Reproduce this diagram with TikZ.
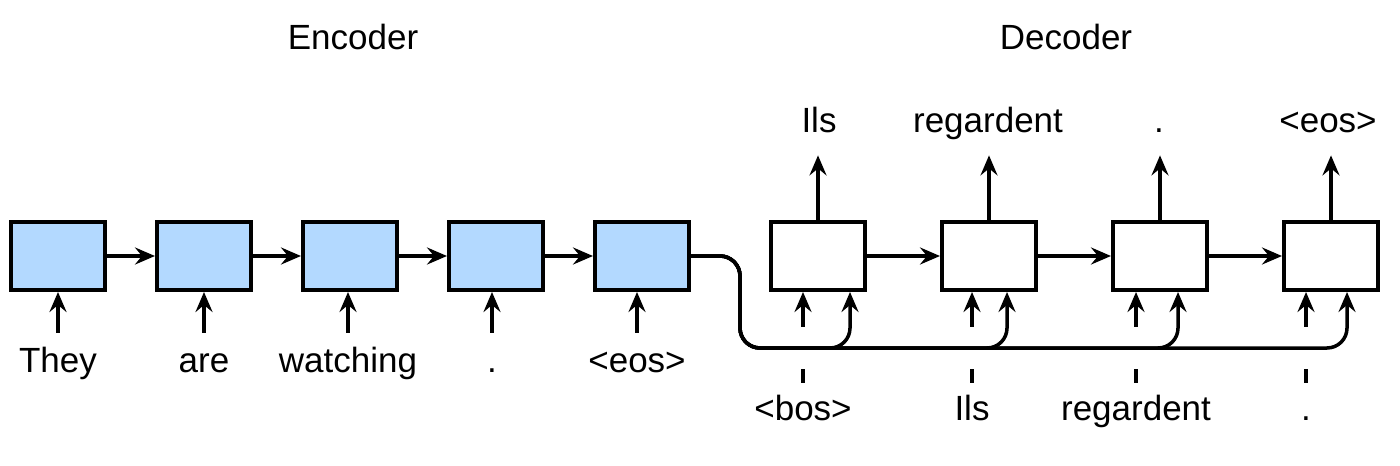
\documentclass[tikz,border=0pt]{standalone}
\usepackage{fontspec}
\setmainfont{Liberation Sans}
\usepackage{xcolor}
\usetikzlibrary{arrows.meta,positioning}
\definecolor{encblue}{RGB}{179,217,255}

\begin{document}
\begin{tikzpicture}[
  x=0.5pt,y=-0.5pt,
  node distance=24pt,
  enc/.style={rectangle,draw,line width=2pt,fill=encblue,minimum width=47pt,minimum height=34pt,inner sep=0pt},
  dec/.style={rectangle,draw,line width=2pt,fill=white,minimum width=47pt,minimum height=34pt,inner sep=0pt},
  word/.style={font=\fontsize{17.5}{21}\selectfont,inner sep=0pt,text height=12.5pt,text depth=3.5pt,anchor=base},
  arr/.style={-{Stealth[length=10pt,width=8.5pt,inset=3.5pt]},line width=1.75pt},
  tick/.style={line width=1.75pt}
]
\useasboundingbox (0,0) rectangle (1400,465);

\node[word] (enctitle) at (353,50) {Encoder};
\node[word] (dectitle) at (1066,50) {Decoder};

\node[enc] (e1) at (58,256) {};
\node[enc,right=of e1] (e2) {};
\node[enc,right=of e2] (e3) {};
\node[enc,right=of e3] (e4) {};
\node[enc,right=of e4] (e5) {};

\node[dec] (d1) at (818,256) {};
\node[dec,right=36.5pt of d1] (d2) {};
\node[dec,right=36.5pt of d2] (d3) {};
\node[dec,right=36.5pt of d3] (d4) {};

\node[word] (w1) at (58,372) {They};
\node[word] (w2) at (204,372) {are};
\node[word] (w3) at (348,372) {watching};
\node[word] (w4) at (492,372) {.};
\node[word] (w5) at (637,372) {<eos>};

\node[word] (o1) at (819,133) {Ils};
\node[word] (o2) at (988,133) {regardent};
\node[word] (o3) at (1159,133) {.};
\node[word] (o4) at (1328,133) {<eos>};

\node[word] (b1) at (803,420) {<bos>};
\node[word] (b2) at (972,420) {Ils};
\node[word] (b3) at (1136,420) {regardent};
\node[word] (b4) at (1306,420) {.};

\coordinate (bus) at (740,348);
\coordinate (r1) at (850,348);
\coordinate (r2) at (1007,348);
\coordinate (r3) at (1178,348);
\coordinate (r4) at (1347,348);

\draw[arr] (e1) -- (e2);
\draw[arr] (e2) -- (e3);
\draw[arr] (e3) -- (e4);
\draw[arr] (e4) -- (e5);
\draw[arr] (d1) -- (d2);
\draw[arr] (d2) -- (d3);
\draw[arr] (d3) -- (d4);

\draw[arr,shorten <=7pt] (w1.north) -- (w1.north |- e1.south);
\draw[arr,shorten <=7pt] (w2.north) -- (w2.north |- e2.south);
\draw[arr,shorten <=7pt] (w3.north) -- (w3.north |- e3.south);
\draw[arr,shorten <=7pt] (w4.north) -- (w4.north |- e4.south);
\draw[arr,shorten <=7pt] (w5.north) -- (w5.north |- e5.south);

\draw[arr,shorten >=7.5pt] (d1.north) -- (d1.north |- o1.south);
\draw[arr,shorten >=7.5pt] (d2.north) -- (d2.north |- o2.south);
\draw[arr,shorten >=7.5pt] (d3.north) -- (d3.north |- o3.south);
\draw[arr,shorten >=7.5pt] (d4.north) -- (d4.north |- o4.south);

\draw[arr,shorten <=34pt] (b1.north) -- (b1.north |- d1.south);
\draw[arr,shorten <=34pt] (b2.north) -- (b2.north |- d2.south);
\draw[arr,shorten <=34pt] (b3.north) -- (b3.north |- d3.south);
\draw[arr,shorten <=34pt] (b4.north) -- (b4.north |- d4.south);

\draw[tick,shorten <=6pt] (b1.north) -- ++(0,-26);
\draw[tick,shorten <=6pt] (b2.north) -- ++(0,-26);
\draw[tick,shorten <=6pt] (b3.north) -- ++(0,-26);
\draw[tick,shorten <=6pt] (b4.north) -- ++(0,-26);

\draw[arr,rounded corners=10pt] (e5.east) -| (bus) -| (r4 |- d4.south);
\draw[arr,rounded corners=10pt] (e5.east) -| (bus) -| (r3 |- d3.south);
\draw[arr,rounded corners=10pt] (e5.east) -| (bus) -| (r2 |- d2.south);
\draw[arr,rounded corners=10pt] (e5.east) -| (bus) -| (r1 |- d1.south);
\end{tikzpicture}
\end{document}
